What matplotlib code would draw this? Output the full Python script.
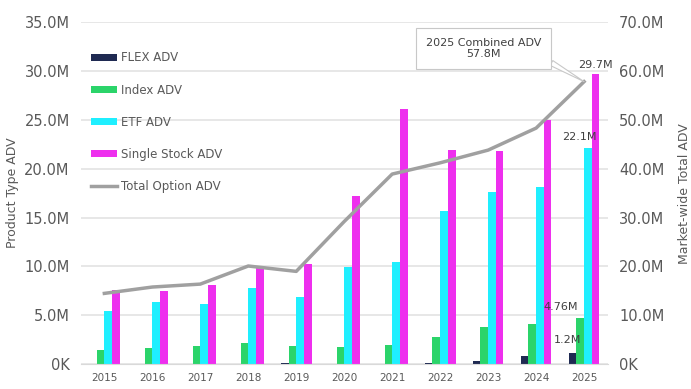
import numpy as np
import matplotlib
matplotlib.use("Agg")
import matplotlib.pyplot as plt
from matplotlib.ticker import FuncFormatter

years = ["2015", "2016", "2017", "2018", "2019", "2020", "2021", "2022", "2023", "2024", "2025"]
flex_adv = [0.03, 0.03, 0.03, 0.03, 0.15, 0.06, 0.08, 0.12, 0.35, 0.8, 1.2]
index_adv = [1.5, 1.7, 1.9, 2.2, 1.9, 1.75, 1.93, 2.8, 3.8, 4.1, 4.76]
etf_adv = [5.4, 6.4, 6.2, 7.8, 6.9, 9.9, 10.5, 15.7, 17.6, 18.1, 22.1]
single_stock_adv = [7.6, 7.5, 8.1, 9.9, 10.3, 17.2, 26.1, 21.9, 21.8, 25.0, 29.7]
total_adv = [14.5, 15.8, 16.4, 20.1, 19.0, 29.2, 38.9, 41.2, 43.8, 48.3, 57.8]

c_flex = "#1F2A52"
c_index = "#2BD46A"
c_etf = "#1FEFFF"
c_ss = "#EE2FEE"
c_total = "#A0A0A0"
txt = "#595959"

fig = plt.figure(figsize=(6.91, 3.89), dpi=100)
ax = fig.add_axes([0.117, 0.0635, 0.763, 0.88])
ax2 = ax.twinx()

x = np.arange(len(years))
w = 0.16
ax.bar(x - 1.5 * w, flex_adv, w, color=c_flex, label="FLEX ADV", zorder=2)
ax.bar(x - 0.5 * w, index_adv, w, color=c_index, label="Index ADV", zorder=2)
ax.bar(x + 0.5 * w, etf_adv, w, color=c_etf, label="ETF ADV", zorder=2)
ax.bar(x + 1.5 * w, single_stock_adv, w, color=c_ss, label="Single Stock ADV", zorder=2)
ax2.plot(x, total_adv, color=c_total, lw=2.5, label="Total Option ADV", zorder=3)

ax.set_xlim(-0.49, 10.5)
ax.set_ylim(0, 35)
ax2.set_ylim(0, 70)
ax.set_yticks(np.arange(0, 36, 5))
ax2.set_yticks(np.arange(0, 71, 10))

fmt = FuncFormatter(lambda v, p: "0K" if v == 0 else f"{v:.1f}M")
ax.yaxis.set_major_formatter(fmt)
ax2.yaxis.set_major_formatter(fmt)
ax.set_xticks(x)
ax.set_xticklabels(years)

ax.grid(axis="y", color="#E3E3E3", lw=1.2, zorder=0)
ax.set_axisbelow(True)
for a in (ax, ax2):
    for s in ("top", "left", "right"):
        a.spines[s].set_visible(False)
    a.spines["bottom"].set_color("#D9D9D9")
ax2.spines["bottom"].set_visible(False)

ax.tick_params(axis="y", length=0, labelsize=10.5, labelcolor=txt, pad=8)
ax2.tick_params(axis="y", length=0, labelsize=10.5, labelcolor=txt, pad=8)
ax.tick_params(axis="x", length=0, labelsize=7.5, labelcolor=txt, pad=6)

ax.set_ylabel("Product Type ADV", fontsize=9, color=txt, labelpad=4)
ax2.set_ylabel("Market-wide Total ADV", fontsize=9, color=txt, labelpad=10)

h1, l1 = ax.get_legend_handles_labels()
h2, l2 = ax2.get_legend_handles_labels()
leg = ax.legend(h1 + h2, l1 + l2, loc="upper left", bbox_to_anchor=(0.0, 0.945),
                frameon=False, fontsize=8.5, labelspacing=1.62, handlelength=2.2,
                handleheight=0.5, handletextpad=0.3, labelcolor=txt)

lab = dict(fontsize=8, color="#404040", ha="center", va="bottom")
ax.text(x[-1] + 1.5 * w, single_stock_adv[-1] + 0.4, "29.7M", **lab)
ax.text(x[-1] - 0.1, etf_adv[-1] + 0.6, "22.1M", **lab)
ax.text(x[-1] - 0.48, index_adv[-1] + 0.6, "4.76M", **lab)
ax.text(x[-1] - 0.34, flex_adv[-1] + 0.8, "1.2M", **lab)

ax2.annotate("2025 Combined ADV\n57.8M", xy=(x[-1], total_adv[-1]), xytext=(7.9, 64.6),
             ha="center", va="center", fontsize=8, color="#404040", zorder=5,
             bbox=dict(boxstyle="square,pad=0.9", fc="white", ec="#C8C8C8", lw=0.8),
             arrowprops=dict(arrowstyle="wedge,tail_width=0.5", fc="white", ec="#C8C8C8",
                             lw=0.8, relpos=(1.0, 0.1), shrinkA=0, shrinkB=0))

fig.savefig("out.png", dpi=100)
plt.close(fig)
